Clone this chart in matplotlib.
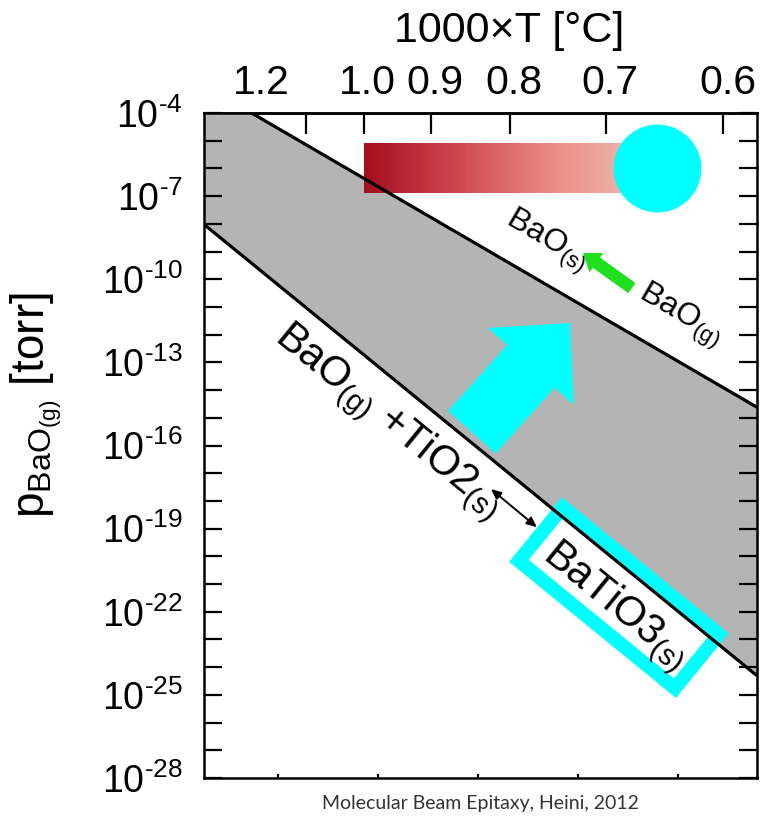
import numpy as np
import matplotlib
matplotlib.use("Agg")
import matplotlib.pyplot as plt
from matplotlib import font_manager
from matplotlib.ft2font import FT2Font
from matplotlib.ticker import FixedLocator, NullFormatter, FuncFormatter
from matplotlib.colors import LinearSegmentedColormap
from matplotlib.patches import Polygon
from matplotlib.transforms import ScaledTranslation

plt.rcParams["font.family"] = ["Liberation Sans", "DejaVu Sans"]
plt.rcParams["mathtext.fontset"] = "custom"
plt.rcParams["mathtext.rm"] = "Liberation Sans"
plt.rcParams["mathtext.it"] = "Liberation Sans:italic"
plt.rcParams["mathtext.bf"] = "Liberation Sans:bold"
plt.rcParams["mathtext.sf"] = "Liberation Sans"

# ---- data -----------------------------------------------------------------
# reciprocal temperature 1000/T [1/K] spanned by the plot
inv_T_range = [0.626, 1.179]
# log10 p(BaO) [torr] of each phase boundary at the two ends of inv_T_range
bao_condensation_log_p = [-3.0, -14.62]    # BaO(g) <-> BaO(s)
batio3_formation_log_p = [-8.02, -24.31]   # BaO(g) + TiO2(s) <-> BaTiO3(s)

# temperature axis (thousands of deg C)
top_ticks_kC = [1.2, 1.1, 1.0, 0.9, 0.8, 0.7, 0.6]
top_tick_labels = ["1.2", "", "1.0", "0.9", "0.8", "0.7", "0.6"]
bottom_ticks_inv = [0.7, 0.8, 0.9, 1.0, 1.1]

# pressure axis, log10 [torr]
log_p_limits = [-28, -4]
log_p_labelled = [-4, -7, -10, -13, -16, -19, -22, -25, -28]

# effusion-cell window: temperature range [kC] and pressure band (log10 torr)
cell_T_kC = [1.0, 0.654]
cell_log_p = [-6.9, -5.1]
# growth point (kC, log10 torr)
growth_T_kC = 0.654
growth_log_p = -6.0

# annotation anchors (1000/T, log10 p)
big_arrow_tail = (0.8939, -15.52)
big_arrow_tip = (0.9919, -11.58)
green_arrow_tail = (1.0539, -10.32)
green_arrow_tip = (1.0049, -9.05)
dbl_arrow_a = (0.9129, -17.57)
dbl_arrow_b = (0.9589, -18.95)
box_center = (1.0409, -21.49)
box_size_pt = (145, 50)


def kC_to_inv(t):
    t = np.asarray(t, dtype=float)
    with np.errstate(divide="ignore", invalid="ignore"):
        return 1.0 / (t + 0.273)


def inv_to_kC(u):
    u = np.asarray(u, dtype=float)
    with np.errstate(divide="ignore", invalid="ignore"):
        return 1.0 / u - 0.273


# short hyphen for the exponents when the font has one
try:
    _cmap = FT2Font(font_manager.findfont("Liberation Sans")).get_charmap()
    DASH = "\u2010" if 0x2010 in _cmap else "\u2212"
except Exception:
    DASH = "\u2212"

CYAN = "#00ffff"
GRAY = "#b4b4b4"

fig = plt.figure(figsize=(7.6, 8.18), dpi=100)
ax = fig.add_axes([204 / 760, 40 / 818, 553 / 760, 665 / 818])
ax.set_yscale("log")
ax.set_xlim(inv_T_range)
ax.set_ylim(10.0 ** log_p_limits[0], 10.0 ** log_p_limits[1])

u = np.array(inv_T_range)
p_up = 10.0 ** np.array(bao_condensation_log_p)
p_lo = 10.0 ** np.array(batio3_formation_log_p)

# stable BaTiO3 growth window
ax.fill_between(u, p_lo, p_up, color=GRAY, lw=0, zorder=1)
ax.plot(u, p_up, color="black", lw=2.3, zorder=4, solid_capstyle="butt")
ax.plot(u, p_lo, color="black", lw=2.3, zorder=4, solid_capstyle="butt")

# effusion cell temperature bar with gradient
cmap = LinearSegmentedColormap.from_list("cell", ["#a50e1c", "#cf4a52", "#e99088", "#f2c0b4"])
xe = np.linspace(kC_to_inv(cell_T_kC[0]), kC_to_inv(cell_T_kC[1]), 120)
ye = 10.0 ** np.array(cell_log_p)
ax.pcolormesh(xe, ye, np.linspace(0, 1, len(xe) - 1)[None, :], cmap=cmap,
              shading="flat", zorder=3, edgecolors="none")

# growth point
ax.scatter([kC_to_inv(growth_T_kC)], [10.0 ** growth_log_p], s=4000, color=CYAN,
           lw=0, zorder=5)

# axes styling
for s in ax.spines.values():
    s.set_linewidth(1.8)
ax.xaxis.set_major_locator(FixedLocator(bottom_ticks_inv))
ax.xaxis.set_minor_locator(FixedLocator([]))
ax.tick_params(axis="x", which="both", bottom=True, top=False, labelbottom=False,
               direction="in", length=3, width=1.5)

ax.yaxis.set_major_locator(FixedLocator([10.0 ** v for v in log_p_labelled]))
ax.yaxis.set_minor_locator(FixedLocator(
    [10.0 ** v for v in range(log_p_limits[0], log_p_limits[1] + 1) if v not in log_p_labelled]))
ax.yaxis.set_major_formatter(FuncFormatter(
    lambda v, _: r"$10^{%s%d}$" % (DASH, abs(round(np.log10(v))))))
ax.yaxis.set_minor_formatter(NullFormatter())
ax.tick_params(axis="y", which="both", left=True, right=True, direction="in",
               length=13, width=1.6, labelsize=27, pad=15)

sec = ax.secondary_xaxis("top", functions=(inv_to_kC, kC_to_inv))
sec.set_xticks(top_ticks_kC, labels=top_tick_labels)
sec.xaxis.set_minor_locator(FixedLocator([]))
sec.tick_params(direction="in", length=15, width=1.6, labelsize=29.5, pad=8)
sec.spines["top"].set_linewidth(1.8)
shift = ScaledTranslation(4 / 100, 0, fig.dpi_scale_trans)
for t in sec.xaxis.get_major_ticks():
    t.label1.set_transform(t.label1.get_transform() + shift)
    t.label2.set_transform(t.label2.get_transform() + shift)

fig.text(509 / 760, 1 - 31 / 818, "1000×T [°C]", fontsize=31, ha="center", va="center")
fig.text(36 / 760, 1 - 405 / 818, r"p$_{\mathregular{BaO_{(g)}}}$ [torr]", fontsize=33,
         rotation=90, ha="center", va="center")
fig.text(480 / 760, 1 - 803 / 818, "Molecular Beam Epitaxy, Heini, 2012", fontsize=14,
         family=["Lato", "DejaVu Sans"], color="#333333", ha="center", va="center")


def screen_angle(xs, log_ps):
    a = ax.transData.transform((xs[0], 10.0 ** log_ps[0]))
    b = ax.transData.transform((xs[1], 10.0 ** log_ps[1]))
    return np.degrees(np.arctan2(b[1] - a[1], b[0] - a[0]))


ang_up = screen_angle(inv_T_range, bao_condensation_log_p)
ang_lo = screen_angle(inv_T_range, batio3_formation_log_p)


def P(pt):
    return (pt[0], 10.0 ** pt[1])


# arrows
ax.annotate("", xy=P(big_arrow_tip), xytext=P(big_arrow_tail),
            arrowprops=dict(arrowstyle="simple,head_length=0.84,head_width=1.66,tail_width=0.92",
                            color=CYAN, lw=0, mutation_scale=50, shrinkA=0, shrinkB=0),
            zorder=2)
ax.annotate("", xy=P(green_arrow_tip), xytext=P(green_arrow_tail),
            arrowprops=dict(arrowstyle="simple,head_length=0.6,head_width=0.85,tail_width=0.45",
                            color="#1fe01f", lw=0, mutation_scale=20, shrinkA=0, shrinkB=0),
            zorder=5)
ax.annotate("", xy=P(dbl_arrow_b), xytext=P(dbl_arrow_a),
            arrowprops=dict(arrowstyle="<|-|>,head_length=0.5,head_width=0.22",
                            color="black", lw=1.4, mutation_scale=12, shrinkA=0, shrinkB=0),
            zorder=5)

# rotated frame around the BaTiO3 label
k = fig.dpi / 72.0
c = ax.transData.transform(P(box_center))
w, h = box_size_pt[0] * k, box_size_pt[1] * k
th = np.radians(ang_lo)
R = np.array([[np.cos(th), -np.sin(th)], [np.sin(th), np.cos(th)]])
corners = np.array([[-w / 2, -h / 2], [w / 2, -h / 2], [w / 2, h / 2], [-w / 2, h / 2]]) @ R.T + c
corners_data = ax.transData.inverted().transform(corners)
ax.add_patch(Polygon(corners_data, closed=True, fill=False, edgecolor=CYAN, lw=10,
                     joinstyle="miter", zorder=3))

# labels
ax.text(0.9689, 10.0 ** -8.62, r"BaO$_{\mathregular{(s)}}$", fontsize=23, rotation=ang_up,
        rotation_mode="anchor", ha="center", va="center", zorder=6)
ax.text(1.1019, 10.0 ** -11.3, r"BaO$_{\mathregular{(g)}}$", fontsize=23, rotation=ang_up,
        rotation_mode="anchor", ha="center", va="center", zorder=6)
ax.text(0.8099, 10.0 ** -15.15, r"BaO$_{\mathregular{(g)}}$ +TiO2$_{\mathregular{(s)}}$",
        fontsize=30, rotation=ang_lo, rotation_mode="anchor", ha="center", va="center", zorder=6)
ax.text(1.0369, 10.0 ** -21.78, r"BaTiO3$_{\mathregular{(s)}}$", fontsize=30, rotation=ang_lo,
        rotation_mode="anchor", ha="center", va="center", zorder=6)

fig.savefig("out.png", dpi=100)
